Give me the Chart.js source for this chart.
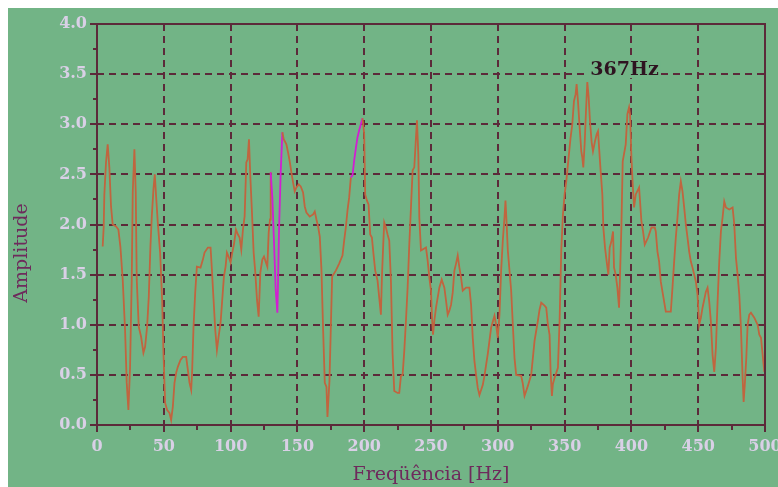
<!DOCTYPE html>
<html>
<head>
<meta charset="utf-8">
<script src="https://cdn.jsdelivr.net/npm/chart.js@4.4.1/dist/chart.umd.min.js"></script>
<style>
  html, body { margin: 0; padding: 0; overflow: hidden; background: #ffffff; }
  #wrap { position: absolute; left: 8px; top: 8px; }
  canvas { background: #72b486; display: block; }
</style>
</head>
<body>
<div id="wrap"><canvas id="c" width="780" height="479"></canvas></div>
<script>
// ---- data ----
const freqs = [
  4.25, 5, 5.5, 6.75, 8, 9.25, 10.5, 11.75, 14.25, 16, 17.5, 19.25, 21, 22.25, 23.5, 24.75, 26, 26.75, 28, 29,
  29.75, 31.25, 33, 34.75, 36, 37.5, 38.75, 40, 41, 42.25, 43.25, 44.25, 45.5, 47.25, 48.75, 49.75, 51, 52.5, 54.25, 55.5,
  56.75, 58, 59.25, 60.5, 62.5, 64.25, 66.75, 68, 69.25, 70.5, 71.25, 72.25, 73.5, 74.75, 77.5, 79.25, 80.5, 83, 85, 86,
  87.25, 88.5, 89.75, 91, 92.5, 93.75, 95, 96.25, 97.25, 98.5, 100, 101.25, 102.5, 104, 105.5, 106.75, 108, 109.25, 110.5, 111.75,
  112.75, 113.75, 114.75, 116, 117.25, 118.5, 119.75, 121, 122.25, 123.75, 125, 126.25, 127.5, 128.5, 129.5, 130, 131.25, 132.5, 133.75, 135,
  135.5, 136.25, 137.5, 138.75, 139.75, 141.75, 143, 144.25, 145.5, 146.75, 148, 149.25, 151, 152.5, 154.25, 155.5, 156.75, 159.25, 161.75, 163,
  164.25, 165.5, 166.75, 168, 169.25, 170.5, 171.75, 172.5, 174, 176, 178.75, 181.25, 183.75, 185, 186.25, 187.5, 188.75, 190, 191.25, 192.5,
  193.75, 195, 196.25, 197.5, 198.75, 200, 200.75, 202, 203.25, 204.5, 205.75, 207, 208.25, 210, 211.25, 212.5, 213.25, 214.25, 215, 216.25,
  217.5, 218.75, 220, 221.25, 222.5, 225, 226.25, 227.5, 228.75, 230, 231.25, 232.5, 233.75, 235, 236.25, 237.5, 238.75, 239.5, 240.5, 241.25,
  242.5, 246.25, 247.5, 248.75, 250, 250.75, 251.5, 252.5, 253.75, 255, 256.25, 258, 260, 261.25, 262.5, 263.75, 265, 266.25, 267.5, 268.75,
  270, 271.25, 272.5, 273.75, 276.25, 278.75, 280, 281.25, 282.5, 283.75, 285, 286.25, 287.5, 288.75, 290, 291.25, 292.5, 293.75, 295, 297.5,
  298.75, 300, 301.25, 302.5, 303.75, 305, 305.75, 306.5, 307.5, 308.75, 310, 311.25, 312.5, 313.75, 317.5, 318.75, 320, 321.25, 322.5, 325,
  326.25, 327.5, 328.75, 330, 331.25, 332.5, 335, 336.25, 337.5, 338.75, 339.5, 340.5, 341.25, 342.5, 345, 346.25, 347.5, 348.75, 350, 351.25,
  352.5, 353.75, 354.5, 355.75, 357, 358.25, 359, 360, 361.25, 362.5, 363.25, 364, 365, 366, 367, 368, 369, 370.25, 371.25, 372.75,
  374, 375, 376, 377, 378.25, 379, 380.25, 381.5, 382.75, 383.75, 385, 386.25, 387, 388.25, 389.5, 390.75, 391.5, 392.5, 393.5, 395.75,
  397, 398.25, 399, 400, 401, 402, 403.25, 405.75, 406.5, 407.5, 408.75, 410, 412.5, 415, 417.5, 418.25, 419.5, 420.75, 422, 423.25,
  424.5, 425.75, 429.5, 430.75, 432, 433.25, 434.5, 435.75, 437, 438.25, 439.5, 440.75, 442, 443.25, 444.5, 445.75, 447, 448.25, 449.5, 450.75,
  452, 453.25, 455.75, 457, 458.25, 459.5, 460.75, 462, 463.25, 464.5, 465.75, 467, 468.25, 469.5, 470.75, 473.25, 475.75, 477, 478.25, 479.5,
  480.75, 482, 483.25, 484, 485, 486, 487, 488.25, 489.5, 492, 494.5, 495.75, 497, 498.25, 499.5
];
const amps = [
  1.78, 1.97, 2.3, 2.62, 2.8, 2.57, 2.18, 2.0, 1.98, 1.95, 1.78, 1.45, 0.95, 0.42, 0.15, 0.58, 1.45, 2.32, 2.75, 2.32,
  1.45, 0.98, 0.88, 0.72, 0.78, 0.98, 1.28, 1.78, 2.08, 2.35, 2.5, 2.28, 2.02, 1.72, 1.25, 0.72, 0.22, 0.15, 0.12, 0.05,
  0.18, 0.42, 0.52, 0.58, 0.65, 0.68, 0.68, 0.55, 0.42, 0.35, 0.55, 0.98, 1.32, 1.58, 1.57, 1.65, 1.72, 1.77, 1.77, 1.55,
  1.25, 0.95, 0.75, 0.88, 1.02, 1.25, 1.48, 1.58, 1.72, 1.68, 1.62, 1.72, 1.8, 1.95, 1.9, 1.87, 1.75, 1.95, 2.08, 2.62,
  2.65, 2.85, 2.48, 2.12, 1.72, 1.52, 1.25, 1.08, 1.52, 1.65, 1.68, 1.63, 1.58, 1.92, 2.05, 2.52, 2.27, 1.82, 1.35, 1.12,
  1.42, 1.95, 2.52, 2.92, 2.85, 2.8, 2.72, 2.63, 2.52, 2.42, 2.33, 2.37, 2.4, 2.38, 2.32, 2.18, 2.12, 2.08, 2.1, 2.13,
  2.05, 1.98, 1.88, 1.55, 0.95, 0.42, 0.38, 0.08, 0.44, 1.48, 1.54, 1.61, 1.69, 1.84, 1.97, 2.14, 2.27, 2.47, 2.49, 2.64,
  2.76, 2.87, 2.94, 3.0, 3.06, 2.9, 2.3, 2.24, 2.2, 1.9, 1.87, 1.7, 1.54, 1.44, 1.27, 1.1, 1.47, 1.8, 2.02, 1.97,
  1.9, 1.84, 1.44, 0.71, 0.34, 0.32, 0.32, 0.49, 0.5, 0.74, 1.04, 1.37, 1.8, 2.17, 2.54, 2.57, 2.87, 3.04, 2.7, 2.07,
  1.74, 1.77, 1.64, 1.47, 1.34, 1.07, 0.9, 1.04, 1.17, 1.27, 1.37, 1.45, 1.37, 1.24, 1.1, 1.14, 1.2, 1.32, 1.54, 1.61,
  1.69, 1.57, 1.47, 1.34, 1.37, 1.37, 1.2, 0.87, 0.64, 0.5, 0.37, 0.3, 0.35, 0.4, 0.49, 0.6, 0.71, 0.84, 0.97, 1.09,
  1.0, 0.87, 1.1, 1.54, 1.84, 2.07, 2.24, 2.04, 1.74, 1.54, 1.34, 1.0, 0.67, 0.5, 0.49, 0.41, 0.29, 0.34, 0.39, 0.5,
  0.67, 0.84, 0.94, 1.04, 1.15, 1.22, 1.19, 1.17, 1.0, 0.9, 0.54, 0.29, 0.41, 0.47, 0.57, 1.04, 1.74, 2.1, 2.3, 2.43,
  2.6, 2.77, 2.87, 3.0, 3.23, 3.3, 3.4, 3.23, 2.97, 2.73, 2.67, 2.57, 2.8, 3.13, 3.42, 3.27, 3.03, 2.82, 2.73, 2.83,
  2.9, 2.93, 2.73, 2.53, 2.3, 1.97, 1.77, 1.63, 1.5, 1.77, 1.83, 1.93, 1.57, 1.5, 1.37, 1.17, 1.5, 1.97, 2.63, 2.8,
  3.1, 3.17, 3.1, 2.67, 2.4, 2.17, 2.3, 2.37, 2.23, 2.03, 1.93, 1.8, 1.87, 1.97, 1.97, 1.93, 1.73, 1.63, 1.43, 1.33,
  1.23, 1.13, 1.13, 1.37, 1.63, 1.87, 2.07, 2.3, 2.43, 2.33, 2.17, 2.0, 1.87, 1.73, 1.63, 1.57, 1.5, 1.43, 1.3, 1.0,
  1.07, 1.17, 1.33, 1.37, 1.23, 1.03, 0.7, 0.53, 0.77, 1.23, 1.63, 1.93, 2.07, 2.23, 2.17, 2.15, 2.17, 2.0, 1.67, 1.5,
  1.3, 0.97, 0.47, 0.23, 0.43, 0.67, 1.0, 1.1, 1.12, 1.07, 1.0, 0.9, 0.87, 0.7, 0.53
];
// frequency ranges drawn in magenta
const highlightRanges = [[130, 138.75], [190, 198.75]];
// axis ticks
const xMajorTicks = [0, 50, 100, 150, 200, 250, 300, 350, 400, 450, 500];
const xMinorTicks = [25, 75, 125, 175, 225, 275, 325, 375, 425, 475];
const yMajorTicks = [0, 0.5, 1.0, 1.5, 2.0, 2.5, 3.0, 3.5, 4.0];
const yMinorTicks = [0.25, 0.75, 1.25, 1.75, 2.25, 2.75, 3.25, 3.75];
// peak annotation
const peakLabel = { freq: 367, amp: 3.5, text: '367Hz' };
const xTitle = 'Freqüência [Hz]';
const yTitle = 'Amplitude';

// ---- styling ----
const BG = '#72b486';
const GRID = '#5c2a3a';
const LINE = '#c0653f';
const MAGENTA = '#d21ed2';
const TICKTXT = '#d9d0e6';
const TITLE = '#6e2a5c';

const points = freqs.map((f, i) => ({ x: f, y: amps[i] }));
const inHighlight = (a, b) => highlightRanges.some(r => a >= r[0] && b <= r[1]);

const framePlugin = {
  id: 'frame',
  afterDraw(chart) {
    const { ctx, chartArea: a, scales: { x, y } } = chart;
    ctx.save();
    ctx.setLineDash([]);
    ctx.strokeStyle = GRID;
    ctx.lineWidth = 2;
    ctx.strokeRect(a.left, a.top, a.right - a.left, a.bottom - a.top);
    ctx.beginPath();
    yMinorTicks.forEach(v => { const py = Math.round(y.getPixelForValue(v)); ctx.moveTo(a.left - 4, py); ctx.lineTo(a.left, py); });
    xMinorTicks.forEach(v => { const px = Math.round(x.getPixelForValue(v)); ctx.moveTo(px, a.bottom); ctx.lineTo(px, a.bottom + 5); });
    ctx.stroke();

    // peak annotation
    ctx.font = 'bold 19px "DejaVu Serif"';
    const tx = x.getPixelForValue(peakLabel.freq) + 3;
    const ty = y.getPixelForValue(peakLabel.amp) + 1;
    const w = ctx.measureText(peakLabel.text).width;
    ctx.fillStyle = BG;
    ctx.fillRect(tx - 2, ty - 15, w + 4, 18);
    ctx.fillStyle = '#2e1420';
    ctx.textBaseline = 'alphabetic';
    ctx.textAlign = 'left';
    ctx.fillText(peakLabel.text, tx, ty);

    // y title
    ctx.translate(14, 245);
    ctx.rotate(-Math.PI / 2);
    ctx.font = '19px "DejaVu Serif"';
    ctx.fillStyle = TITLE;
    ctx.textAlign = 'center';
    ctx.textBaseline = 'middle';
    ctx.fillText(yTitle, 0, 0);
    ctx.restore();
  }
};

new Chart(document.getElementById('c'), {
  type: 'line',
  data: {
    datasets: [{
      data: points,
      borderColor: LINE,
      borderWidth: 1.8,
      pointRadius: 0,
      tension: 0,
      fill: false,
      segment: {
        borderColor: ctx => inHighlight(ctx.p0.parsed.x, ctx.p1.parsed.x) ? MAGENTA : LINE
      }
    }]
  },
  options: {
    responsive: false,
    animation: false,
    events: [],
    layout: { padding: { top: 16, right: 23, left: 0, bottom: 0 } },
    plugins: { legend: { display: false }, tooltip: { enabled: false } },
    scales: {
      x: {
        type: 'linear', min: 0, max: 500,
        afterFit: s => { s.height = 62; },
        afterBuildTicks: s => { s.ticks = xMajorTicks.map(v => ({ value: v })); },
        ticks: {
          color: TICKTXT, font: { family: 'DejaVu Serif', size: 16, weight: 'bold' },
          padding: 5, maxRotation: 0, autoSkip: false,
          callback: v => String(v)
        },
        grid: { color: GRID, lineWidth: 2, tickLength: 7, tickWidth: 2, tickColor: GRID, tickBorderDash: [] },
        border: { display: false, dash: [7, 5] },
        title: { display: true, text: xTitle, color: TITLE, font: { family: 'DejaVu Serif', size: 19 }, padding: { top: 0, bottom: 1 } }
      },
      y: {
        type: 'linear', min: 0, max: 4,
        afterFit: s => { s.width = 89; },
        afterBuildTicks: s => { s.ticks = yMajorTicks.map(v => ({ value: v })); },
        ticks: {
          color: TICKTXT, font: { family: 'DejaVu Serif', size: 16, weight: 'bold' },
          padding: 3, autoSkip: false,
          callback: v => Number(v).toFixed(1)
        },
        grid: { color: GRID, lineWidth: 2, tickLength: 7, tickWidth: 2, tickColor: GRID, tickBorderDash: [] },
        border: { display: false, dash: [7, 5] }
      }
    }
  },
  plugins: [framePlugin]
});
</script>
</body>
</html>
